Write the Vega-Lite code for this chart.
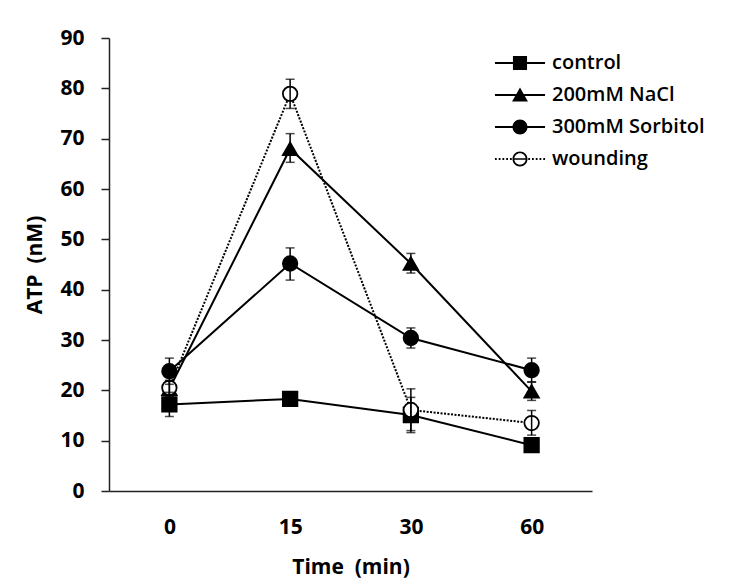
{
  "$schema": "https://vega.github.io/schema/vega-lite/v6.json",
  "width": 483,
  "height": 453,
  "autosize": {"type": "none"},
  "padding": {"left": 109, "top": 38, "right": 143, "bottom": 97},
  "background": "white",
  "config": {
    "view": {"stroke": null},
    "font": "Open Sans",
    "axis": {"labelFont": "Open Sans", "titleFont": "Open Sans", "labelColor": "black", "titleColor": "black", "domainColor": "#222", "tickColor": "#222", "domainWidth": 1.5, "tickWidth": 1.5, "grid": false}
  },
  "data": {
    "values": [
      {"series": "control", "time": "0", "atp": 17.2, "lo": 14.8, "hi": 19.6},
      {"series": "control", "time": "15", "atp": 18.3, "lo": 17.5, "hi": 19.1},
      {"series": "control", "time": "30", "atp": 15.1, "lo": 11.6, "hi": 18.6},
      {"series": "control", "time": "60", "atp": 9.1, "lo": 8.3, "hi": 9.9},
      {"series": "200mM NaCl", "time": "0", "atp": 20.3, "lo": 18.8, "hi": 21.8},
      {"series": "200mM NaCl", "time": "15", "atp": 68.0, "lo": 65.3, "hi": 71.0},
      {"series": "200mM NaCl", "time": "30", "atp": 45.2, "lo": 43.3, "hi": 47.2},
      {"series": "200mM NaCl", "time": "60", "atp": 19.8, "lo": 18.0, "hi": 21.6},
      {"series": "300mM Sorbitol", "time": "0", "atp": 23.8, "lo": 21.2, "hi": 26.4},
      {"series": "300mM Sorbitol", "time": "15", "atp": 45.2, "lo": 41.9, "hi": 48.3},
      {"series": "300mM Sorbitol", "time": "30", "atp": 30.4, "lo": 28.4, "hi": 32.4},
      {"series": "300mM Sorbitol", "time": "60", "atp": 24.0, "lo": 21.7, "hi": 26.4},
      {"series": "wounding", "time": "0", "atp": 20.5, "lo": 19.0, "hi": 22.0},
      {"series": "wounding", "time": "15", "atp": 78.9, "lo": 76.0, "hi": 81.8},
      {"series": "wounding", "time": "30", "atp": 16.1, "lo": 12.0, "hi": 20.3},
      {"series": "wounding", "time": "60", "atp": 13.5, "lo": 11.1, "hi": 16.0}
    ]
  },
  "encoding": {
    "x": {
      "field": "time", "type": "ordinal", "sort": ["0", "15", "30", "60"],
      "scale": {"type": "point", "padding": 0.5},
      "axis": {"title": "Time\u00a0 (min)", "labelAngle": 0, "labelFontSize": 21, "labelFontWeight": "bold", "ticks": false, "labelPadding": 25, "titleFontSize": 21, "titleFontWeight": "bold", "titlePadding": 19}
    },
    "y": {
      "field": "atp", "type": "quantitative",
      "scale": {"domain": [0, 90], "nice": false},
      "axis": {"title": "ATP\u00a0 (nM)", "values": [0,10,20,30,40,50,60,70,80,90], "labelFontSize": 21, "labelFontWeight": "bold", "tickSize": 8, "labelPadding": 17, "titleFontSize": 21, "titleFontWeight": "bold", "titlePadding": 14}
    }
  },
  "layer": [
    {
      "transform": [{"filter": "datum.series != 'wounding'"}],
      "mark": {"type": "line", "color": "black", "strokeWidth": 2},
      "encoding": {"detail": {"field": "series"}}
    },
    {
      "transform": [{"filter": "datum.series == 'wounding'"}],
      "mark": {"type": "line", "color": "black", "strokeWidth": 2, "strokeDash": [2, 1.5]},
      "encoding": {}
    },
    {
      "mark": {"type": "point", "stroke": "black", "strokeWidth": 1.8, "opacity": 1, "size": 210},
      "encoding": {
        "shape": {
          "condition": [
            {"test": "datum.series == 'control'", "value": "square"},
            {"test": "datum.series == '200mM NaCl'", "value": "triangle-up"}
          ],
          "value": "circle"
        },
        "fill": {
          "condition": {"test": "datum.series == 'wounding'", "value": "white"},
          "value": "black"
        }
      }
    },
    {
      "transform": [{"filter": "datum.series == 'none'"}],
      "mark": {"type": "point", "stroke": "black", "strokeWidth": 2, "opacity": 1},
      "encoding": {
        "shape": {
          "field": "series", "type": "nominal",
          "scale": {
            "domain": ["control", "200mM NaCl", "300mM Sorbitol", "wounding"],
            "range": [
              "M-1.67,-0.07H1.67V0.07H-1.67ZM-0.47,-0.47H0.47V0.47H-0.47Z",
              "M-1.67,-0.07H1.67V0.07H-1.67ZM0,-0.5L0.53,0.43H-0.53Z",
              "M-1.67,-0.07H1.67V0.07H-1.67ZM-0.5,0A0.5,0.5 0 1,1 0.5,0A0.5,0.5 0 1,1 -0.5,0Z",
              "M-1.67,-0.06h0.12v0.12h-0.12ZM-1.42,-0.06h0.12v0.12h-0.12ZM-1.17,-0.06h0.12v0.12h-0.12ZM-0.92,-0.06h0.12v0.12h-0.12ZM-0.67,-0.06h0.12v0.12h-0.12ZM0.55,-0.06h0.12v0.12h-0.12ZM0.8,-0.06h0.12v0.12h-0.12ZM1.05,-0.06h0.12v0.12h-0.12ZM1.3,-0.06h0.12v0.12h-0.12ZM1.55,-0.06h0.12v0.12h-0.12ZM-0.5,0A0.5,0.5 0 1,1 0.5,0A0.5,0.5 0 1,1 -0.5,0ZM-0.38,0A0.38,0.38 0 1,0 0.38,0A0.38,0.38 0 1,0 -0.38,0ZM-0.45,-0.05H0.45V0.05H-0.45Z"
            ]
          },
          "legend": {
            "title": null,
            "orient": "none",
            "legendX": 396,
            "legendY": 10,
            "padding": 0,
            "symbolSize": 900,
            "rowPadding": 7,
            "labelOffset": 17,
            "labelFont": "Open Sans",
            "labelFontSize": 20,
            "labelFontWeight": 600,
            "labelColor": "black",
            "symbolStrokeWidth": 0,
            "symbolOpacity": 1
          }
        },
        "fill": {
          "field": "series", "type": "nominal",
          "scale": {"domain": ["control", "200mM NaCl", "300mM Sorbitol", "wounding"], "range": ["black", "black", "black", "black"]},
          "legend": {
            "title": null,
            "orient": "none",
            "legendX": 396,
            "legendY": 10,
            "padding": 0,
            "symbolSize": 900,
            "rowPadding": 7,
            "labelOffset": 17,
            "labelFont": "Open Sans",
            "labelFontSize": 20,
            "labelFontWeight": 600,
            "labelColor": "black",
            "symbolStrokeWidth": 0,
            "symbolOpacity": 1
          }
        }
      }
    },
    {
      "mark": {"type": "rule", "color": "black", "strokeWidth": 1.5},
      "encoding": {"y": {"field": "lo", "type": "quantitative"}, "y2": {"field": "hi"}}
    },
    {
      "mark": {"type": "tick", "color": "black", "thickness": 1.5, "size": 9, "orient": "horizontal"},
      "encoding": {"y": {"field": "lo", "type": "quantitative"}}
    },
    {
      "mark": {"type": "tick", "color": "black", "thickness": 1.5, "size": 9, "orient": "horizontal"},
      "encoding": {"y": {"field": "hi", "type": "quantitative"}}
    }
  ]
}
